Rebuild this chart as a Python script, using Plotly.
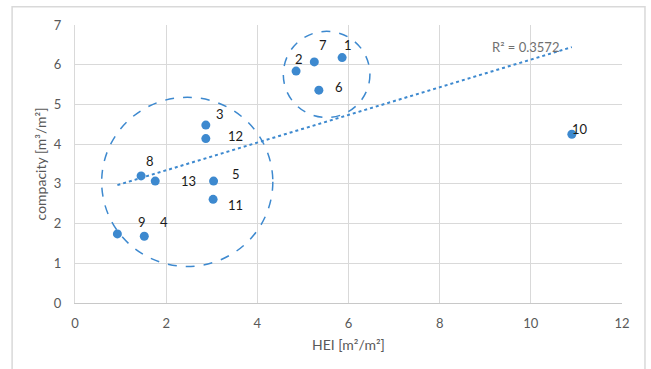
import numpy as np
import plotly.graph_objects as go

# Buildings: heat-exchange index vs. compacity
labels = ["1", "2", "3", "4", "5", "6", "7", "8", "9", "10", "11", "12", "13"]
hei = [5.86, 4.85, 2.87, 1.52, 3.04, 5.35, 5.25, 1.45, 0.93, 10.9, 3.03, 2.87, 1.76]
compacity = [6.18, 5.84, 4.48, 1.68, 3.07, 5.36, 6.07, 3.20, 1.74, 4.25, 2.61, 4.14, 3.07]

# label offsets in pixels (dx, dy) relative to each point
label_dx = [6, 3, 14, 20, 22, 20, 9, 9, 25, 8, 22, 30, 33]
label_dy = [-13, -12, -11, -14, -7, -3, -17, -15, -12, -5, 6, -3, 0]

r2_text = "R² = 0.3572"

x_ticks = [0, 2, 4, 6, 8, 10, 12]
y_ticks = [0, 1, 2, 3, 4, 5, 6, 7]

BLUE = "#3d89cf"
GRID = "#d9d9d9"
TICK_COLOR = "#595959"
FONT = "Lato, 'Open Sans', sans-serif"

# linear trend
xa = np.array(hei)
ya = np.array(compacity)
slope, intercept = np.polyfit(xa, ya, 1)
xt = np.array([xa.min(), xa.max()])
yt = slope * xt + intercept

fig = go.Figure()

fig.add_trace(go.Scatter(
    x=xt, y=yt, mode="lines",
    line=dict(color=BLUE, width=2, dash="dot"),
    hoverinfo="skip", showlegend=False,
))

fig.add_trace(go.Scatter(
    x=hei, y=compacity, mode="markers",
    marker=dict(color=BLUE, size=9),
    showlegend=False,
))

annotations = []
for lab, x, y, dx, dy in zip(labels, hei, compacity, label_dx, label_dy):
    annotations.append(dict(
        x=x, y=y, xref="x", yref="y", text=lab, showarrow=False,
        xshift=dx, yshift=-dy,
        font=dict(family=FONT, size=13, color="#1a1a1a"),
    ))

annotations.append(dict(
    x=xt[1], y=yt[1], xref="x", yref="y", text=r2_text, showarrow=False,
    xshift=-46, yshift=0,
    font=dict(family=FONT, size=13, color="#707070"),
))

shapes = [
    # cluster outlines
    dict(type="circle", xref="x", yref="y", x0=0.585, x1=4.34, y0=0.92, y1=5.18,
         line=dict(color=BLUE, width=1.5, dash="dash")),
    dict(type="circle", xref="x", yref="y", x0=4.57, x1=6.47, y0=4.67, y1=6.84,
         line=dict(color=BLUE, width=1.5, dash="dash")),
    # chart frame
    dict(type="rect", xref="paper", yref="paper", x0=-0.115, x1=1.042, y0=-0.35, y1=1.066,
         line=dict(color=GRID, width=1.5), layer="below"),
]

fig.update_layout(
    width=651, height=369,
    margin=dict(l=75, r=29, t=25, b=66),
    paper_bgcolor="white", plot_bgcolor="white",
    font=dict(family=FONT, size=13, color=TICK_COLOR),
    annotations=annotations,
    shapes=shapes,
    xaxis=dict(
        range=[0, 12], tickvals=x_ticks, showgrid=True, gridcolor=GRID, gridwidth=1,
        zeroline=False, showline=True, linecolor="#c8c8c8", linewidth=1, mirror=False,
        ticks="", ticklabelstandoff=8,
        title=dict(text="HEI [m²/m²]", font=dict(family=FONT, size=14, color=TICK_COLOR), standoff=10),
        tickfont=dict(family=FONT, size=13, color=TICK_COLOR),
    ),
    yaxis=dict(
        range=[0, 7], tickvals=y_ticks, showgrid=True, gridcolor=GRID, gridwidth=1,
        zeroline=False, showline=True, linecolor=GRID, linewidth=1,
        ticks="", ticklabelstandoff=10,
        title=dict(text="compacity [m³/m²]", font=dict(family=FONT, size=14, color=TICK_COLOR), standoff=3),
        tickfont=dict(family=FONT, size=13, color=TICK_COLOR),
    ),
)

fig.write_html("out.html")
